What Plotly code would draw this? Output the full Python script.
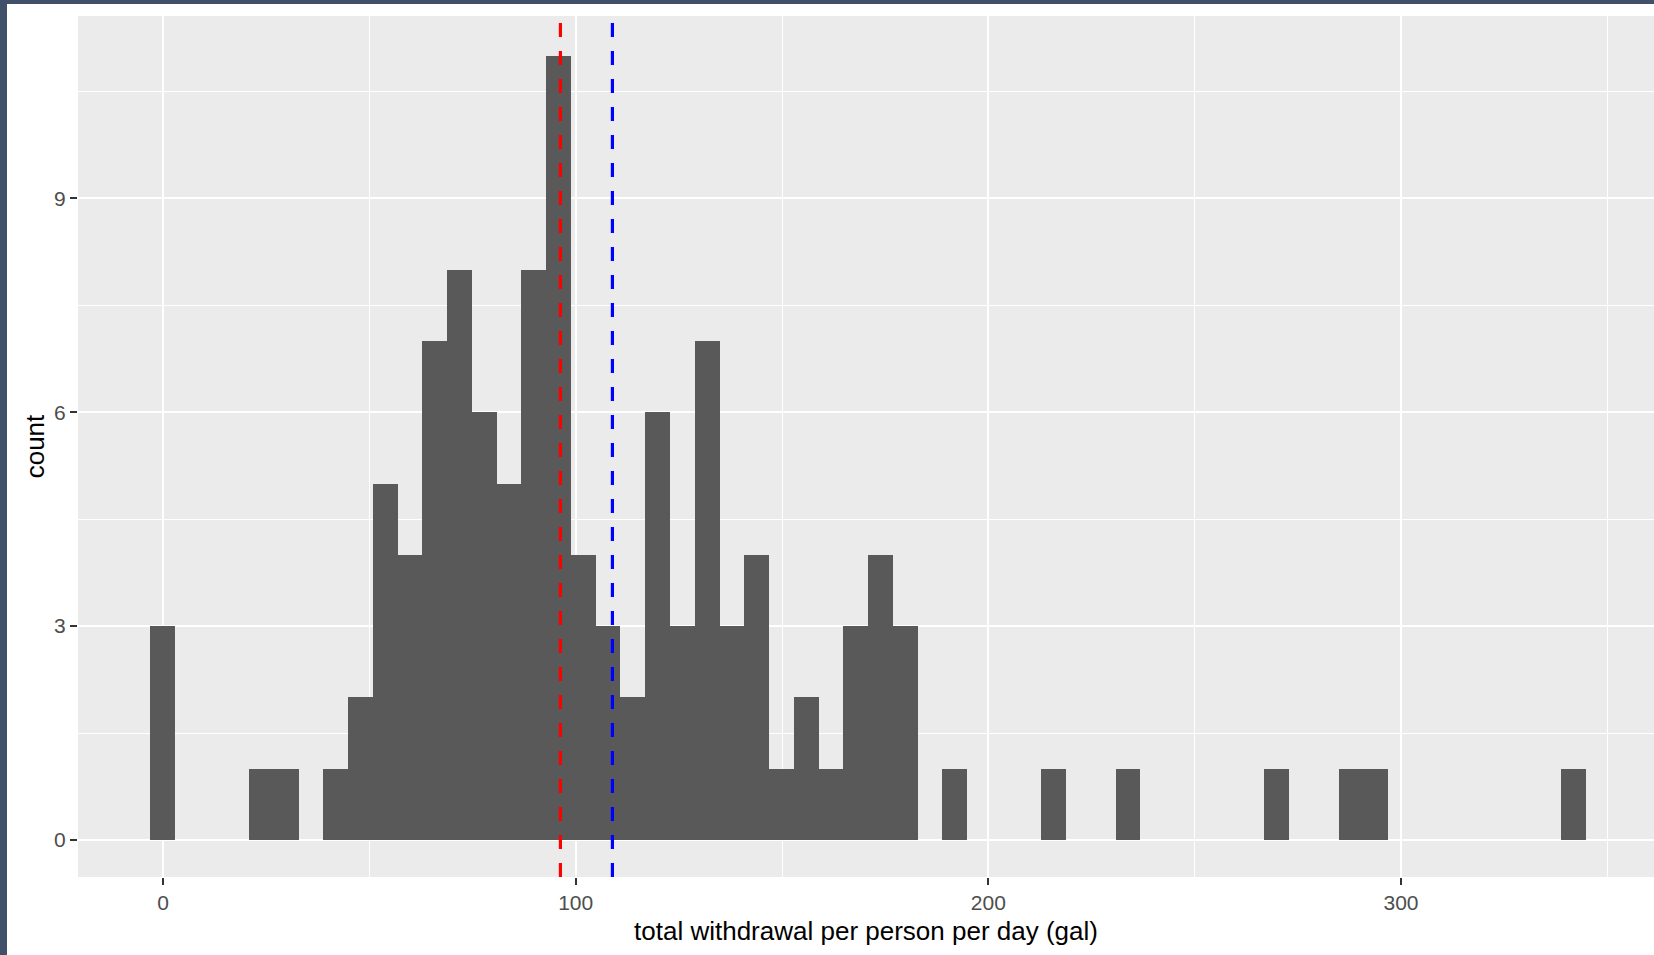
import plotly.graph_objects as go

# Histogram of per-capita daily withdrawal (bin width 6 gal)
bin_width = 6.0
bin_centers = [-0.15, 23.85, 29.85, 41.85, 47.85, 53.85, 59.85, 65.85, 71.85, 77.85,
               83.85, 89.85, 95.85, 101.85, 107.85, 113.85, 119.85, 125.85, 131.85,
               137.85, 143.85, 149.85, 155.85, 161.85, 167.85, 173.85, 179.85,
               191.85, 215.85, 233.85, 269.85, 287.85, 293.85, 341.85]
bin_counts = [3, 1, 1, 1, 2, 5, 4, 7, 8, 6,
              5, 8, 11, 4, 3, 2, 6, 3, 7,
              3, 4, 1, 2, 1, 3, 4, 3,
              1, 1, 1, 1, 1, 1, 1]

median_value = 96.3
mean_value = 108.9

x_ticks = [0, 100, 200, 300]
x_minor = [50, 150, 250, 350]
y_ticks = [0, 3, 6, 9]
y_minor = [1.5, 4.5, 7.5, 10.5]

W, H = 1654, 955
ML, MR, MT, MB = 78, 0, 16, 78
FONT = "Liberation Sans, Arial, sans-serif"

fig = go.Figure()
fig.add_trace(go.Bar(
    x=bin_centers, y=bin_counts, width=bin_width,
    marker=dict(color="#595959", line=dict(width=0)),
    hoverinfo="x+y", showlegend=False,
))

# reference lines: median (red) and mean (blue)
for val, col in [(median_value, "#FF0000"), (mean_value, "#0000FF")]:
    fig.add_shape(type="line", xref="x", yref="y domain",
                  x0=val, x1=val, y0=0, y1=1,
                  line=dict(color=col, width=3.2, dash="14px,14px"))

# thin dark window frame along the left and top edges
pw = W - ML - MR
ph = H - MT - MB
def px_x(p):
    return (p - ML) / pw
def px_y(p):
    return (H - MB - p) / ph
frame = "#41506a"
fig.add_shape(type="rect", xref="paper", yref="paper", layer="above",
              x0=px_x(0), x1=px_x(7), y0=px_y(H), y1=px_y(0),
              line=dict(width=0), fillcolor=frame)
fig.add_shape(type="rect", xref="paper", yref="paper", layer="above",
              x0=px_x(0), x1=px_x(W), y0=px_y(4), y1=px_y(0),
              line=dict(width=0), fillcolor=frame)

axis_common = dict(
    showline=False, zeroline=False, automargin=False,
    ticks="outside", ticklen=7, tickwidth=2, tickcolor="#333333",
    tickfont=dict(family=FONT, size=21, color="#4d4d4d"),
    showgrid=True, gridcolor="#FFFFFF", gridwidth=2,
)

fig.update_layout(
    width=W, height=H,
    margin=dict(l=ML, r=MR, t=MT, b=MB, pad=0),
    paper_bgcolor="#FFFFFF", plot_bgcolor="#EBEBEB",
    bargap=0, font=dict(family=FONT),
    xaxis=dict(
        range=[-20.6, 361.3], tickmode="array", tickvals=x_ticks,
        ticktext=[str(v) for v in x_ticks], ticklabelstandoff=0,
        minor=dict(tickmode="array", tickvals=x_minor, showgrid=True,
                   gridcolor="#FFFFFF", gridwidth=1, ticks=""),
        title=dict(text="total withdrawal per person per day (gal)",
                   font=dict(family=FONT, size=26, color="#000000"), standoff=8),
        **axis_common,
    ),
    yaxis=dict(
        range=[-0.52, 11.56], tickmode="array", tickvals=y_ticks,
        ticktext=[str(v) for v in y_ticks], ticklabelstandoff=0,
        minor=dict(tickmode="array", tickvals=y_minor, showgrid=True,
                   gridcolor="#FFFFFF", gridwidth=1, ticks=""),
        title=dict(text="count",
                   font=dict(family=FONT, size=26, color="#000000"), standoff=2),
        **axis_common,
    ),
)

fig.write_html("out.html")
